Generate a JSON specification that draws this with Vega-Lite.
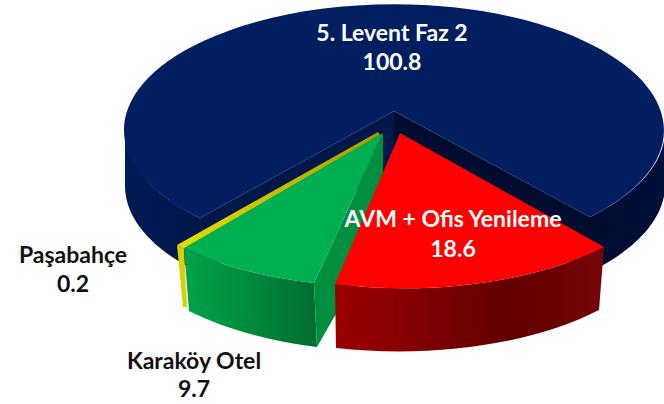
{
"$schema":"https://vega.github.io/schema/vega-lite/v6.json",
"width":664,"height":404,"padding":0,"autosize":{"type":"none"},
"background":"#ffffff",
"view":{"stroke":null},
"datasets":{
"parts":[
{"part":"a","slice":"5. Levent Faz 2","value":100.8},
{"part":"b","slice":"5. Levent Faz 2","value":100.8},
{"part":"c","slice":"5. Levent Faz 2","value":100.8},
{"part":"d","slice":"5. Levent Faz 2","value":100.8},
{"part":"e","slice":"5. Levent Faz 2","value":100.8},
{"part":"f","slice":"Paşabahçe","value":0.2},
{"part":"g","slice":"Paşabahçe","value":0.2},
{"part":"h","slice":"Karaköy Otel","value":9.7},
{"part":"i","slice":"Karaköy Otel","value":9.7},
{"part":"j","slice":"Karaköy Otel","value":9.7},
{"part":"k","slice":"AVM + Ofis Yenileme","value":18.6},
{"part":"l","slice":"AVM + Ofis Yenileme","value":18.6}
],
"slices":[
{"slice":"5. Levent Faz 2","value":100.8,"label":"5. Levent Faz 2\n100.8"},
{"slice":"AVM + Ofis Yenileme","value":18.6,"label":"AVM + Ofis Yenileme\n18.6"},
{"slice":"Karaköy Otel","value":9.7,"label":"Karaköy Otel\n9.7"},
{"slice":"Paşabahçe","value":0.2,"label":"Paşabahçe\n0.2"}
]},
"layer":[
{"data":{"name":"parts"},
"encoding":{
"shape":{"field":"part","type":"nominal","legend":null,"scale":{"domain":["a","b","c","d","e","f","g","h","i","j","k","l"],"range":[
"M62 -91 L-132 16 L-132 71 L62 -32 Z",
"M62 -91 L258 15 L258 70 L62 -32 Z",
"M-132 16 A270 126 0 0 1 -207 -69 L-207 -14 A270 126 0 0 0 -132 71 Z",
"M333 -69 A270 126 0 0 1 258 15 L258 70 A270 126 0 0 0 333 -14 Z",
"M-132 16 L62 -91 L258 15 A270 126 0 1 0 -132 16 Z",
"M-155 43 L-149 105 L-145 105 L-148 47 Z",
"M46 -70 L-155 43 L-148 47 L48 -67 Z",
"M-148 46 L-143 109 A270 126 0 0 0 -15 145 L-18 81 A270 126 0 0 1 -148 46 Z",
"M51 -69 L-18 81 L-15 145 L51 30 Z",
"M51 -69 L-18 81 A270 126 0 0 1 -148 46 Z",
"M3 82 L4 146 A270 126 0 0 0 267 108 L272 45 A270 126 0 0 1 3 82 Z",
"M68 -69 L272 45 A270 126 0 0 1 3 82 Z"
]}}},
"layer":[
{"transform":[{"filter":"datum.part==='a'"}],"mark":{"type":"point","filled":true,"opacity":1,"size":4,"strokeWidth":0,"fill":"#00174a"}},
{"transform":[{"filter":"datum.part==='b'"}],"mark":{"type":"point","filled":true,"opacity":1,"size":4,"strokeWidth":0,"fill":"#000c30"}},
{"transform":[{"filter":"datum.part==='c'"}],"mark":{"type":"point","filled":true,"opacity":1,"size":4,"strokeWidth":0,"fill":{"gradient":"linear","x1":0,"x2":1,"y1":0,"y2":0,"stops":[{"offset":0,"color":"#001a55"},{"offset":1,"color":"#00164a"}]}}},
{"transform":[{"filter":"datum.part==='d'"}],"mark":{"type":"point","filled":true,"opacity":1,"size":4,"strokeWidth":0,"fill":{"gradient":"linear","x1":0,"x2":1,"y1":0,"y2":0,"stops":[{"offset":0,"color":"#000c30"},{"offset":1,"color":"#00103a"}]}}},
{"transform":[{"filter":"datum.part==='e'"}],"mark":{"type":"point","filled":true,"opacity":1,"size":4,"strokeWidth":0,"fill":"#001e60"}},
{"transform":[{"filter":"datum.part==='f'"}],"mark":{"type":"point","filled":true,"opacity":1,"size":4,"strokeWidth":0,"fill":"#d8d000"}},
{"transform":[{"filter":"datum.part==='g'"}],"mark":{"type":"point","filled":true,"opacity":1,"size":4,"strokeWidth":0,"fill":{"gradient":"linear","x1":0,"x2":1,"y1":0,"y2":0,"stops":[{"offset":0,"color":"#e6de00"},{"offset":1,"color":"#a89a00"}]}}},
{"transform":[{"filter":"datum.part==='h'"}],"mark":{"type":"point","filled":true,"opacity":1,"size":4,"strokeWidth":0,"fill":{"gradient":"linear","x1":0,"x2":1,"y1":0,"y2":0,"stops":[{"offset":0,"color":"#00a24b"},{"offset":0.5,"color":"#008a3e"},{"offset":1,"color":"#006c30"}]}}},
{"transform":[{"filter":"datum.part==='i'"}],"mark":{"type":"point","filled":true,"opacity":1,"size":4,"strokeWidth":0,"fill":"#008f41"}},
{"transform":[{"filter":"datum.part==='j'"}],"mark":{"type":"point","filled":true,"opacity":1,"size":4,"strokeWidth":0,"fill":"#00b050"}},
{"transform":[{"filter":"datum.part==='k'"}],"mark":{"type":"point","filled":true,"opacity":1,"size":4,"strokeWidth":0,"fill":{"gradient":"linear","x1":0,"x2":1,"y1":0,"y2":0,"stops":[{"offset":0,"color":"#9c0000"},{"offset":0.65,"color":"#620000"},{"offset":1,"color":"#740505"}]}}},
{"transform":[{"filter":"datum.part==='l'"}],"mark":{"type":"point","filled":true,"opacity":1,"size":4,"strokeWidth":0,"fill":"#ff0000"}}
]},
{"data":{"name":"slices"},"transform":[{"filter":"datum.slice==='5. Levent Faz 2'"}],
"mark":{"type":"text","font":"Lato","fontWeight":"bold","fontSize":23,"lineBreak":"\n","lineHeight":29,"align":"center","baseline":"middle","fill":"#ffffff","dx":60,"dy":-168},
"encoding":{"text":{"field":"label"}}},
{"data":{"name":"slices"},"transform":[{"filter":"datum.slice==='AVM + Ofis Yenileme'"}],
"mark":{"type":"text","font":"Lato","fontWeight":"bold","fontSize":23,"lineBreak":"\n","lineHeight":30,"align":"center","baseline":"middle","fill":"#ffffff","dx":121,"dy":18},
"encoding":{"text":{"field":"label"}}},
{"data":{"name":"slices"},"transform":[{"filter":"datum.slice==='Karaköy Otel'"}],
"mark":{"type":"text","font":"Lato","fontWeight":"bold","fontSize":23,"lineBreak":"\n","lineHeight":28,"align":"center","baseline":"middle","fill":"#111111","dx":-138,"dy":160},
"encoding":{"text":{"field":"label"}}},
{"data":{"name":"slices"},"transform":[{"filter":"datum.slice==='Paşabahçe'"}],
"mark":{"type":"text","font":"Lato","fontWeight":"bold","fontSize":23,"lineBreak":"\n","lineHeight":29,"align":"center","baseline":"middle","fill":"#111111","dx":-259,"dy":54},
"encoding":{"text":{"field":"label"}}}
]
}
